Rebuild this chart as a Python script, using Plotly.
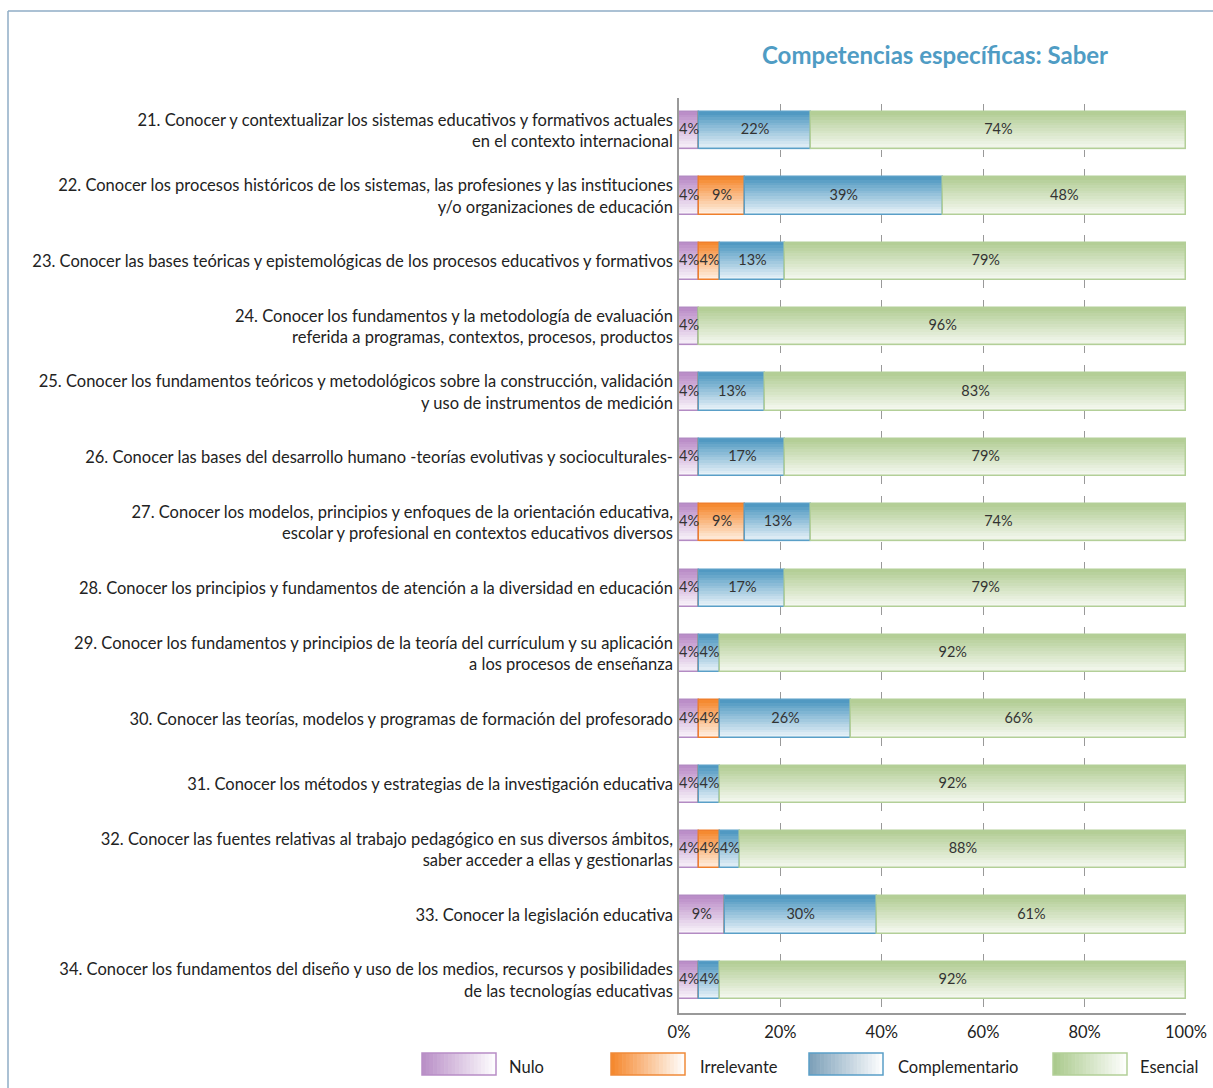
import plotly.graph_objects as go

categories = [
    "21. Conocer y contextualizar los sistemas educativos y formativos actuales<br>en el contexto internacional",
    "22. Conocer los procesos históricos de los sistemas, las profesiones y las instituciones<br>y/o organizaciones de educación",
    "23. Conocer las bases teóricas y epistemológicas de los procesos educativos y formativos",
    "24. Conocer los fundamentos y la metodología de evaluación<br>referida a programas, contextos, procesos, productos",
    "25. Conocer los fundamentos teóricos y metodológicos sobre la construcción, validación<br>y uso de instrumentos de medición",
    "26. Conocer las bases del desarrollo humano -teorías evolutivas y socioculturales-",
    "27. Conocer los modelos, principios y enfoques de la orientación educativa,<br>escolar y profesional en contextos educativos diversos",
    "28. Conocer los principios y fundamentos de atención a la diversidad en educación",
    "29. Conocer los fundamentos y principios de la teoría del currículum y su aplicación<br>a los procesos de enseñanza",
    "30. Conocer las teorías, modelos y programas de formación del profesorado",
    "31. Conocer los métodos y estrategias de la investigación educativa",
    "32. Conocer las fuentes relativas al trabajo pedagógico en sus diversos ámbitos,<br>saber acceder a ellas y gestionarlas",
    "33. Conocer la legislación educativa",
    "34. Conocer los fundamentos del diseño y uso de los medios, recursos y posibilidades<br>de las tecnologías educativas",
]

nulo = [4, 4, 4, 4, 4, 4, 4, 4, 4, 4, 4, 4, 9, 4]
irrelevante = [0, 9, 4, 0, 0, 0, 9, 0, 0, 4, 0, 4, 0, 0]
complementario = [22, 39, 13, 0, 13, 17, 13, 17, 4, 26, 4, 4, 30, 4]
esencial = [74, 48, 79, 96, 83, 79, 74, 79, 92, 66, 92, 88, 61, 92]

series_names = ["Nulo", "Irrelevante", "Complementario", "Esencial"]
x_ticks = [0, 20, 40, 60, 80, 100]
title_text = "Competencias específicas: Saber"

series_values = [nulo, irrelevante, complementario, esencial]
# (top colour, bottom colour, border colour)
styles = [
    ("#b98ac6", "#fbf7fc", "#b38bc3"),
    ("#f5862a", "#fff3e8", "#ef7f2c"),
    ("#4b96c0", "#edf5fa", "#5a9fc7"),
    ("#b1cc93", "#f7faf3", "#b3cf98"),
]
legend_styles = [
    ("#b88dc6", "#ffffff", "#b88dc6"),
    ("#f5862a", "#ffffff", "#f08a3a"),
    ("#7b9fb8", "#ffffff", "#5a9fc7"),
    ("#a9c98b", "#ffffff", "#b3cf98"),
]

FONT = "Lato, 'Noto Sans', sans-serif"
W, H = 1213, 1088
L, R, T, B = 679, 1186, 98, 1013
BAR_W = 0.57
N_SLICES = 14
N_ROWS = len(categories)
ROW_PX = (B - T) / N_ROWS
HIDE = 6.0
grid_dash = "0px,%.2fpx,%.2fpx,%.2fpx" % (HIDE, ROW_PX - 2 * HIDE, HIDE)


def hex2rgb(h):
    h = h.lstrip("#")
    return tuple(int(h[i:i + 2], 16) for i in (0, 2, 4))


def mix(c1, c2, t):
    a, b = hex2rgb(c1), hex2rgb(c2)
    return "rgb(%d,%d,%d)" % tuple(round(a[i] + (b[i] - a[i]) * t) for i in range(3))


def px2x(px):
    return (px - L) / (R - L)


def px2y(py):
    return (B - py) / (B - T)


ypos = list(range(N_ROWS))

fig = go.Figure()

bases = [0] * N_ROWS
text_traces = []
for name, vals, (ctop, cbot, cline) in zip(series_names, series_values, styles):
    base = list(bases)
    sw = BAR_W / N_SLICES
    for i in range(N_SLICES):
        t = (i + 0.5) / N_SLICES
        fig.add_trace(go.Bar(
            orientation="h", y=ypos, x=vals, base=base,
            width=sw * 1.08, offset=-BAR_W / 2 + i * sw,
            marker=dict(color=mix(ctop, cbot, t), line=dict(width=0)),
            showlegend=False, hoverinfo="skip", name=name,
        ))
    fig.add_trace(go.Bar(
        orientation="h", y=ypos, x=vals, base=base,
        width=BAR_W, offset=-BAR_W / 2,
        marker=dict(color="rgba(0,0,0,0)", line=dict(color=cline, width=1.5)),
        showlegend=False, name=name,
    ))
    text_traces.append(go.Scatter(
        x=[b + v / 2 for b, v in zip(base, vals)], y=ypos,
        mode="text", text=[f"{v}%" if v > 0 else "" for v in vals],
        textposition="middle center",
        textfont=dict(family=FONT, size=14.5, color="#333333"),
        showlegend=False, hoverinfo="skip", cliponaxis=False,
    ))
    bases = [b + v for b, v in zip(bases, vals)]

for tr in text_traces:
    fig.add_trace(tr)

shapes = []
annotations = []

# frame
shapes.append(dict(type="line", xref="paper", yref="paper",
                   x0=px2x(8), x1=px2x(8), y0=px2y(11), y1=px2y(H + 5),
                   line=dict(color="#8fadc6", width=1.5)))
shapes.append(dict(type="line", xref="paper", yref="paper",
                   x0=px2x(8), x1=px2x(W + 5), y0=px2y(11), y1=px2y(11),
                   line=dict(color="#8fadc6", width=1.5)))

# legend
leg_box_x = [422, 611, 809, 1053]
leg_txt_x = [507, 698, 896, 1138]
box_w, y0p, y1p = 74, 1053, 1075
n_strip = 20
for name, bx, tx, (c1, c2, cl) in zip(series_names, leg_box_x, leg_txt_x, legend_styles):
    sw = box_w / n_strip
    for i in range(n_strip):
        shapes.append(dict(type="rect", xref="paper", yref="paper",
                           x0=px2x(bx + i * sw), x1=px2x(bx + (i + 1) * sw + 0.6),
                           y0=px2y(y1p), y1=px2y(y0p),
                           fillcolor=mix(c1, c2, (i + 0.5) / n_strip),
                           line=dict(width=0), layer="above"))
    shapes.append(dict(type="rect", xref="paper", yref="paper",
                       x0=px2x(bx), x1=px2x(bx + box_w), y0=px2y(y1p), y1=px2y(y0p),
                       fillcolor="rgba(0,0,0,0)", line=dict(color=cl, width=1.5),
                       layer="above"))
    annotations.append(dict(xref="paper", yref="paper", x=px2x(tx), y=px2y(1067),
                            text=name, showarrow=False, xanchor="left", yanchor="middle",
                            font=dict(family=FONT, size=16.5, color="#222222")))

annotations.append(dict(xref="paper", yref="paper", x=px2x(935), y=px2y(55),
                        text=f"<b>{title_text}</b>", showarrow=False,
                        xanchor="center", yanchor="middle",
                        font=dict(family=FONT, size=24, color="#4f9cc4")))

fig.update_layout(
    width=W, height=H,
    margin=dict(l=L, r=W - R, t=T, b=H - B, pad=0, autoexpand=False),
    paper_bgcolor="white", plot_bgcolor="white",
    barmode="overlay", bargap=0,
    shapes=shapes, annotations=annotations,
    showlegend=False,
    font=dict(family=FONT, size=16.5, color="#222222"),
)
fig.update_xaxes(
    range=[0, 100], tickvals=x_ticks, ticktext=[f"{v}%" for v in x_ticks],
    showgrid=True, gridcolor="#999999", gridwidth=1, griddash=grid_dash,
    showline=True, linecolor="#999999", linewidth=1.5,
    ticks="outside", ticklen=3, tickcolor="rgba(0,0,0,0)",
    zeroline=False, fixedrange=True, automargin=False,
    tickfont=dict(family=FONT, size=16.5, color="#222222"),
)
fig.update_yaxes(
    range=[N_ROWS - 0.5, -0.5],
    tickvals=ypos, ticktext=categories,
    showgrid=False, showline=True, linecolor="#999999", linewidth=1.5,
    ticks="outside", ticklen=1, tickcolor="rgba(0,0,0,0)",
    zeroline=False, fixedrange=True, automargin=False,
    tickfont=dict(family=FONT, size=16.5, color="#222222"),
)

fig.write_html(
    "out.html",
    config={"displayModeBar": False},
    post_script="document.body.style.margin='0';document.body.style.overflow='hidden';",
)
